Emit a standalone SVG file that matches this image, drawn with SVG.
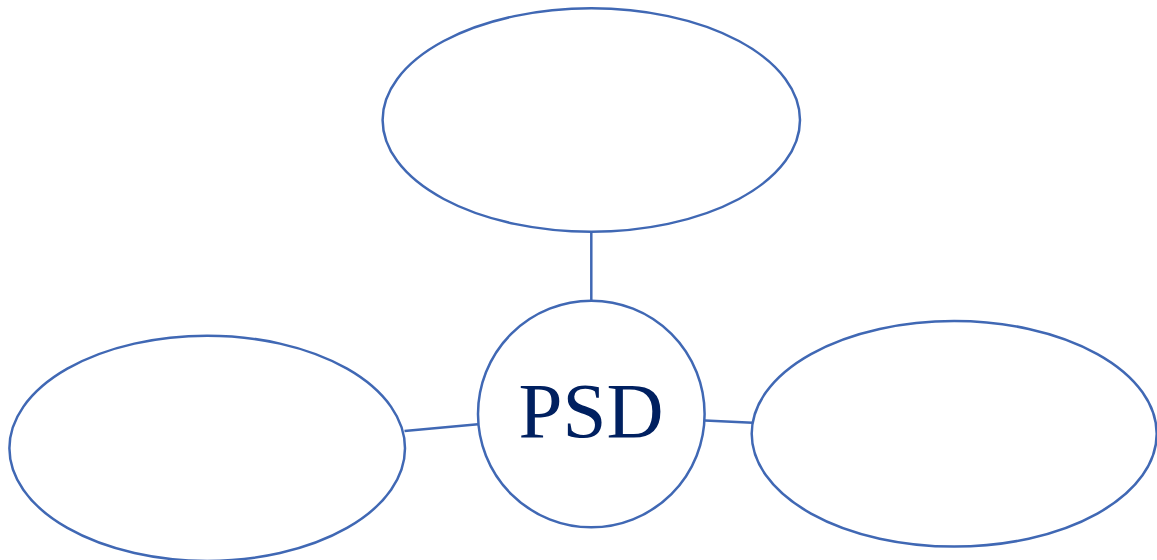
<svg xmlns="http://www.w3.org/2000/svg" width="1157" height="560" viewBox="0 0 1157 560">
  <style>
    .shape { fill: #ffffff; stroke: #4068B4; stroke-width: 2.5; }
    .link { stroke: #4068B4; stroke-width: 2.5; fill: none; }
    .label { font-family: "Liberation Serif", "Times New Roman", serif; font-size: 79px; fill: #002060; text-anchor: middle; }
  </style>
  <rect width="1157" height="560" fill="#ffffff"/>
  <!-- connectors between the centre and the three satellites -->
  <g id="connectors">
    <line class="link" x1="591.3" y1="231.7" x2="591.3" y2="300.7"/>
    <line class="link" x1="404.5" y1="431" x2="478" y2="424.3"/>
    <line class="link" x1="705" y1="420.5" x2="752.5" y2="422.7"/>
  </g>
  <g id="node-top">
    <ellipse class="shape" cx="591.3" cy="120" rx="208.7" ry="111.7"/>
  </g>
  <g id="node-left">
    <ellipse class="shape" cx="207.2" cy="448.3" rx="197.8" ry="112.6"/>
  </g>
  <g id="node-right">
    <ellipse class="shape" cx="954.2" cy="433.8" rx="202.5" ry="112.8"/>
  </g>
  <g id="node-psd">
    <circle class="shape" cx="591.3" cy="414" r="113.3"/>
    <text class="label" x="591" y="436.7">PSD</text>
  </g>
</svg>
